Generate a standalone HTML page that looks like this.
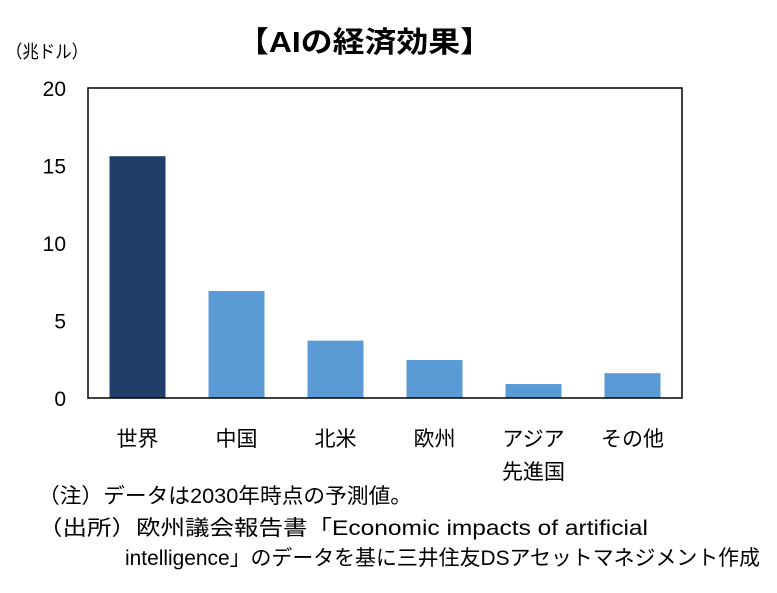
<!DOCTYPE html>
<html><head><meta charset="utf-8">
<style>
body{margin:0;background:#fff;width:777px;height:588px;overflow:hidden;font-family:"Liberation Sans","Noto Sans CJK JP",sans-serif;}
svg text{font-family:"Liberation Sans","Noto Sans CJK JP",sans-serif;}
</style></head><body>
<svg width="777" height="588">
<text x="237" y="52" textLength="255" lengthAdjust="spacingAndGlyphs" font-size="29" font-weight="bold" fill="#000">【AIの経済効果】</text>
<text x="6" y="58" textLength="82" lengthAdjust="spacingAndGlyphs" font-size="18" fill="#000">（兆ドル）</text>
<g id="plot"></g>
<text x="38" y="503" textLength="374" lengthAdjust="spacingAndGlyphs" font-size="21" fill="#000">（注）データは2030年時点の予測値。</text>
<text x="38" y="535" textLength="610" lengthAdjust="spacingAndGlyphs" font-size="21" fill="#000">（出所）欧州議会報告書「Economic impacts of artificial</text>
<text x="125" y="565" textLength="635" lengthAdjust="spacingAndGlyphs" font-size="21" fill="#000">intelligence」のデータを基に三井住友DSアセットマネジメント作成</text>
</svg>
<script>
const categories=["世界","中国","北米","欧州","アジア","その他"];
const values=[15.6,6.9,3.7,2.45,0.9,1.6];
const yTicks=[0,5,10,15,20];
const L=88,R=682,T=88,B=398,yMax=20;
const ns="http://www.w3.org/2000/svg";
const g=document.getElementById("plot");
const y=v=>B-(v/yMax)*(B-T);
const band=(R-L)/categories.length;
const x=i=>L+band*(i+0.5);
function mk(t,a){const e=document.createElementNS(ns,t);for(const k in a)e.setAttribute(k,a[k]);g.appendChild(e);return e;}
yTicks.forEach(t=>{
 const e=mk("text",{x:L-22,y:y(t)+8,"text-anchor":"end","font-size":"21",fill:"#000"});
 e.textContent=t;
 
 
});
values.forEach((v,i)=>{
 const r=mk("rect",{x:x(i)-28,y:y(v),width:56,height:B-y(v),fill:i===0?"#1f3f6a":"#5b9bd5"});
 
 
 const parts=categories[i]==="アジア"?["アジア","先進国"]:[categories[i]];
 parts.forEach((p,j)=>{
  const t=mk("text",{x:x(i),y:446+j*33,"text-anchor":"middle","font-size":"21",fill:"#000"});
  t.textContent=p;
  
  
 });
});
const f=mk("rect",{x:L,y:T,width:R-L,height:B-T,fill:"none",stroke:"#000","stroke-width":1.5});


</script>
</body></html>
